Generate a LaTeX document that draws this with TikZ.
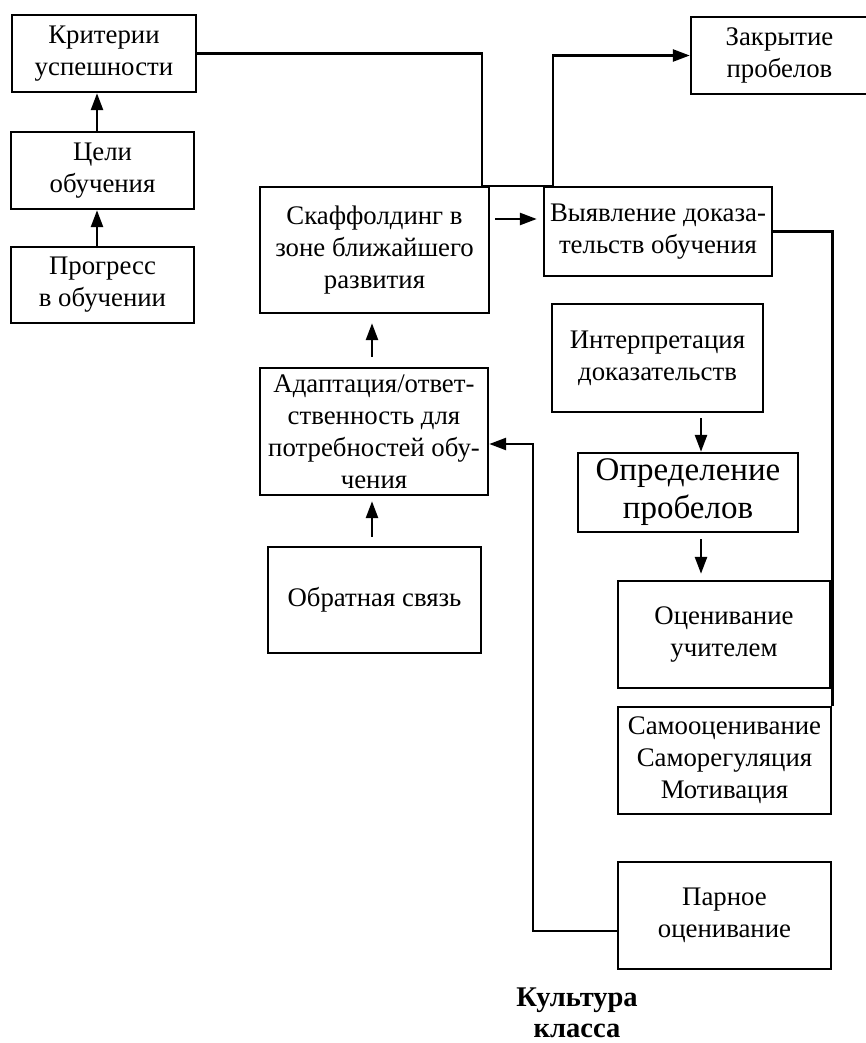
\documentclass[tikz,border=0pt]{standalone}
\usepackage{fontspec}
\setmainfont{Liberation Serif}
\usetikzlibrary{arrows.meta,calc}
\tikzset{
  box/.style={draw, line width=2.4pt, align=center, inner sep=2pt,
    font=\fontsize{26.8}{32}\selectfont},
  bigbox/.style={box, font=\fontsize{33}{38}\selectfont},
  conn/.style={line width=2.6pt},
  arr/.style={conn, -{Triangle[length=17pt,width=12pt]}},
}
\begin{document}
\begin{tikzpicture}[x=1pt,y=-1pt]
\useasboundingbox (0,0) rectangle (866,1043);
% boxes
\node[box, minimum width=184pt, minimum height=77pt] (krit) at (104,53.5) {Критерии\\успешности};
\node[box, minimum width=183pt, minimum height=77pt] (celi) at (102.5,170.5) {Цели\\обучения};
\node[box, minimum width=183pt, minimum height=76pt] (progr) at (102.5,285) {Прогресс\\в обучении};
\node[box, minimum width=229pt, minimum height=126pt] (skaf) at (374.5,250) {Скаффолдинг в\\зоне ближайшего\\развития};
\node[box, minimum width=228pt, minimum height=89pt] (vyav) at (658,231.5) {Выявление доказа-\\тельств обучения};
\node[box, minimum width=177pt, minimum height=77pt] (zakr) at (779.5,55.5) {Закрытие\\пробелов};
\node[box, minimum width=211pt, minimum height=108pt] (interp) at (657.5,358) {Интерпретация\\доказательств};
\node[bigbox, minimum width=220pt, minimum height=79pt] (opred) at (688,492.5) {Определение\\пробелов};
\node[box, minimum width=212pt, minimum height=107pt] (ocen) at (724,634.5) {Оценивание\\учителем};
\node[box, minimum width=213pt, minimum height=107pt] (samo) at (724.5,760.5) {Самооценивание\\Саморегуляция\\Мотивация};
\node[box, minimum width=213pt, minimum height=107pt] (parn) at (724.5,915.5) {Парное\\оценивание};
\node[box, minimum width=228pt, minimum height=127pt] (adapt) at (374,431.5) {Адаптация/ответ-\\ственность для\\потребностей обу-\\чения};
\node[box, minimum width=213pt, minimum height=106pt] (obr) at (374.5,600) {Обратная связь};
\node[align=center, font=\fontsize{28.5}{31}\selectfont\bfseries] (kult) at (577,1013) {Культура\\класса};
% connectors
\draw[arr] (celi.north -| 97,0) coordinate (a1) -- (krit.south -| a1);
\draw[arr] (progr.north -| a1) -- (celi.south -| a1);
\coordinate (j1) at (482,186);
\coordinate (j2) at (553,186);
\draw[conn] (krit.east) -| (j1) -- (j2);
\draw[arr] (j2) |- (zakr.west);
\draw[arr, shorten <=5pt, shorten >=6pt] ([yshift=31pt]skaf.east) -- ([yshift=31pt]skaf.east -| vyav.west);
\draw[conn] (vyav.east) -| (samo.north east);
\coordinate (o1) at ([xshift=13pt]opred.north);
\draw[arr, shorten <=5pt] (interp.south -| o1) -- (o1);
\draw[arr, shorten <=6pt, shorten >=6pt] (opred.south -| o1) -- (ocen.north -| o1);
\coordinate (s1) at (372,0);
\draw[arr, shorten <=10pt, shorten >=9pt] (adapt.north -| s1) -- (skaf.south -| s1);
\draw[arr, shorten <=9pt, shorten >=5pt] (obr.north -| s1) -- (adapt.south -| s1);
\coordinate (c1) at (533,444);
\draw[arr] ([yshift=-15.5pt]parn.west) -| (c1) -- (adapt.east |- c1);
\end{tikzpicture}
\end{document}
